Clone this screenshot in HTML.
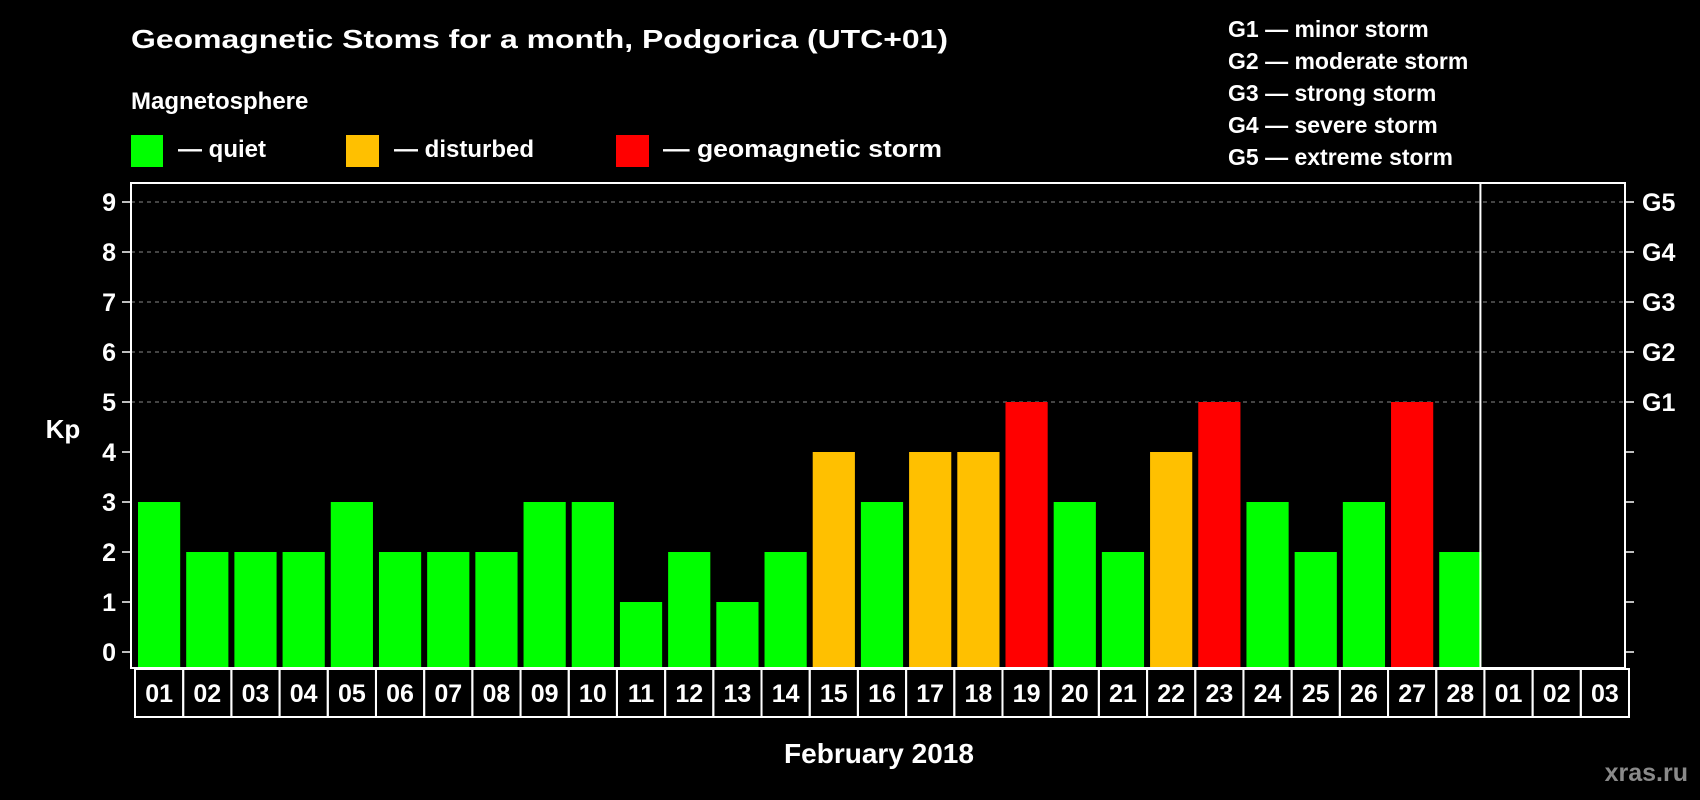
<!DOCTYPE html>
<html><head><meta charset="utf-8"><style>
html,body{margin:0;padding:0;background:#000;width:1700px;height:800px;overflow:hidden}
svg text{font-family:"Liberation Sans",Arial,sans-serif;font-weight:bold;fill:#fff}
</style></head><body>
<svg id="chart" width="1700" height="800" viewBox="0 0 1700 800" xmlns="http://www.w3.org/2000/svg">
<rect width="1700" height="800" fill="#000"/>
<text x="131" y="48" font-size="26" textLength="817" lengthAdjust="spacingAndGlyphs">Geomagnetic Stoms for a month, Podgorica (UTC+01)</text>
<text x="131" y="109" font-size="24">Magnetosphere</text>
<rect x="131" y="135" width="32" height="32" fill="#00ff00"/>
<text x="178" y="157" font-size="24">— quiet</text>
<rect x="346" y="135" width="33" height="32" fill="#ffc000"/>
<text x="394" y="157" font-size="24">— disturbed</text>
<rect x="616" y="135" width="33" height="32" fill="#ff0000"/>
<text x="663" y="157" font-size="24" textLength="279" lengthAdjust="spacingAndGlyphs">— geomagnetic storm</text>
<g font-size="23">
<text x="1228" y="37" font-size="23">G1 — minor storm</text>
<text x="1228" y="69" font-size="23">G2 — moderate storm</text>
<text x="1228" y="101" font-size="23">G3 — strong storm</text>
<text x="1228" y="133" font-size="23">G4 — severe storm</text>
<text x="1228" y="165" font-size="23">G5 — extreme storm</text>
</g>
<g id="grid"></g>
<g id="bars"></g>
<g id="axes"></g>
<text x="63" y="438" font-size="26" text-anchor="middle">Kp</text>
<text x="879" y="763" font-size="28" text-anchor="middle">February 2018</text>
<text x="1688" y="781" font-size="25" text-anchor="end" style="fill:#8a8a8a">xras.ru</text>
</svg>
<script>
const days = ["01","02","03","04","05","06","07","08","09","10","11","12","13","14","15","16","17","18","19","20","21","22","23","24","25","26","27","28","01","02","03"];
const kpValues = [3,2,2,2,3,2,2,2,3,3,1,2,1,2,4,3,4,4,5,3,2,4,5,3,2,3,5,2];
const yTicks = [0,1,2,3,4,5,6,7,8,9];
const gLabels = ["G1","G2","G3","G4","G5"];
const NS="http://www.w3.org/2000/svg";
const L=131,R=1625,T=183,B=668,Y0=652,UNIT=50;
const slot=(R-L)/days.length;
const y=v=>Y0-v*UNIT;
const xs=i=>L+i*slot;
function mk(tag,attrs,parent){const e=document.createElementNS(NS,tag);for(const k in attrs)e.setAttribute(k,attrs[k]);parent.appendChild(e);return e;}
const grid=document.getElementById('grid'),bars=document.getElementById('bars'),axes=document.getElementById('axes');
yTicks.forEach(v=>{
  if(v>=5){const g=mk('line',{x1:L,x2:R,y1:y(v),y2:y(v),stroke:'#888','stroke-dasharray':'4,4','stroke-width':1},grid);
    
    }
  const t1=mk('line',{x1:L-9,x2:L,y1:y(v),y2:y(v),stroke:'#fff','stroke-width':1.5},axes);
  
  
  const t2=mk('line',{x1:R,x2:R+9,y1:y(v),y2:y(v),stroke:'#fff','stroke-width':1.5},axes);
  
  
  const lb=mk('text',{x:116,y:y(v)+9,'font-size':25,'text-anchor':'end'},axes);lb.textContent=v;
  
  
  if(v>=5){const gl=mk('text',{x:1642,y:y(v)+9,'font-size':25},axes);gl.textContent=gLabels[v-5];
    
    }
});
kpValues.forEach((v,i)=>{
  const col=v>=5?'#ff0000':(v>=4?'#ffc000':'#00ff00');
  const b=mk('rect',{x:xs(i)+7,y:y(v),width:slot-6,height:B-y(v),fill:col},bars);
  
  
});
const fr=mk('rect',{x:L,y:T,width:R-L,height:B-T,fill:'none',stroke:'#fff','stroke-width':2},axes);


const dv=mk('line',{x1:xs(kpValues.length),x2:xs(kpValues.length),y1:T,y2:B,stroke:'#fff','stroke-width':2},axes);


days.forEach((d,i)=>{
  const bx=mk('rect',{x:xs(i)+4,y:B+1,width:slot,height:48,fill:'none',stroke:'#fff','stroke-width':2},axes);
  
  
  const t=mk('text',{x:xs(i)+4+slot/2,y:B+34,'font-size':25,'text-anchor':'middle'},axes);t.textContent=d;
  
  
});
</script>
</body></html>
